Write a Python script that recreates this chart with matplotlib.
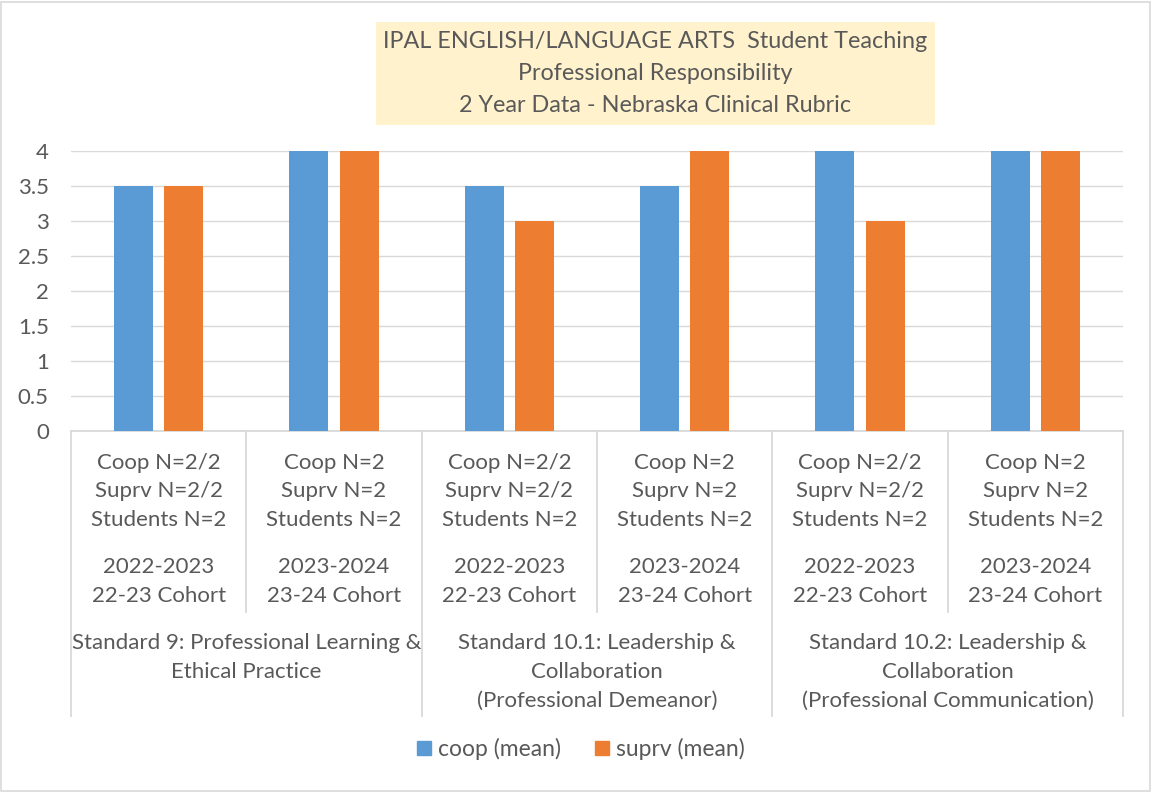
import matplotlib
matplotlib.use("Agg")
import matplotlib.pyplot as plt
import numpy as np
from matplotlib.transforms import blended_transform_factory
from matplotlib.patches import Rectangle
from matplotlib.lines import Line2D

# ---- data ----
coop_mean = [3.5, 4, 3.5, 3.5, 4, 4]
suprv_mean = [3.5, 4, 3, 4, 3, 4]
coop_n = ["Coop N=2/2", "Coop N=2", "Coop N=2/2", "Coop N=2", "Coop N=2/2", "Coop N=2"]
suprv_n = ["Suprv N=2/2", "Suprv N=2", "Suprv N=2/2", "Suprv N=2", "Suprv N=2/2", "Suprv N=2"]
students_n = ["Students N=2"] * 6
years = ["2022-2023", "2023-2024", "2022-2023", "2023-2024", "2022-2023", "2023-2024"]
cohorts = ["22-23 Cohort", "23-24 Cohort", "22-23 Cohort", "23-24 Cohort", "22-23 Cohort", "23-24 Cohort"]
groups = [
    ["Standard 9: Professional Learning &", "Ethical Practice"],
    ["Standard 10.1: Leadership &", "Collaboration", "(Professional Demeanor)"],
    ["Standard 10.2: Leadership &", "Collaboration", "(Professional Communication)"],
]
title_lines = ["IPAL ENGLISH/LANGUAGE ARTS  Student Teaching",
               "Professional Responsibility",
               "2 Year Data - Nebraska Clinical Rubric"]
series_names = ["coop (mean)", "suprv (mean)"]
yticks = [0, 0.5, 1, 1.5, 2, 2.5, 3, 3.5, 4]

# ---- style ----
W, H = 1152, 792
BLUE = "#5B9BD5"
ORANGE = "#ED7D31"
TXT = "#595959"
GRID = "#D9D9D9"
FONT = "Lato"
FS = 16
TFS = 16.8

plt.rcParams["font.family"] = [FONT, "DejaVu Sans"]

fig = plt.figure(figsize=(W / 100, H / 100), dpi=100)
fig.patch.set_facecolor("white")

def fy(py):
    return 1 - py / H

ax = fig.add_axes([71 / W, fy(431), (1123 - 71) / W, (431 - 151) / H])
x = np.arange(len(coop_mean))
bw = 0.222
off = 0.143
ax.bar(x - off, coop_mean, bw, color=BLUE, zorder=3)
ax.bar(x + off, suprv_mean, bw, color=ORANGE, zorder=3)
ax.set_xlim(-0.5, len(coop_mean) - 0.5)
ax.set_ylim(0, 4)
ax.set_yticks(yticks)
ax.set_yticklabels([f"{v:g}" for v in yticks], fontsize=FS, color=TXT)
ax.tick_params(axis="y", length=0, pad=16)
ax.set_xticks([])
ax.grid(axis="y", color=GRID, lw=1, zorder=0)
for s in ["top", "right", "left"]:
    ax.spines[s].set_visible(False)
ax.spines["bottom"].set_color(GRID)
ax.spines["bottom"].set_linewidth(1.3)

tr = blended_transform_factory(ax.transData, fig.transFigure)

# category labels
for i in range(len(coop_mean)):
    for txt, py in zip([coop_n[i], suprv_n[i], students_n[i], years[i], cohorts[i]],
                       [463, 491, 520, 567, 596]):
        fig.text(i, fy(py), txt, transform=tr, ha="center", va="center",
                 fontsize=FS, color=TXT)

# group labels
for g, lines in enumerate(groups):
    cx = 2 * g + 0.5
    for k, txt in enumerate(lines):
        fig.text(cx, fy(643 + 29 * k), txt, transform=tr, ha="center", va="center",
                 fontsize=FS, color=TXT)

# separator lines
for b in np.arange(-0.5, len(coop_mean), 1.0):
    idx = int(b + 0.5)
    bottom = 716 if idx % 2 == 0 else 612
    fig.add_artist(Line2D([b, b], [fy(431), fy(bottom)], transform=tr,
                          color=GRID, lw=1.3))

# title box
fig.add_artist(Rectangle((376 / W, fy(125)), (935 - 376) / W, (125 - 22) / H,
                         transform=fig.transFigure, facecolor="#FFF2CC",
                         edgecolor="none", zorder=0))
for k, t in enumerate(title_lines):
    fig.text((376 + 935) / 2 / W, fy(41 + 32 * k), t, ha="center", va="center",
             fontsize=TFS, color=TXT)

# legend
handles = [Rectangle((0, 0), 1, 1, color=BLUE), Rectangle((0, 0), 1, 1, color=ORANGE)]
fig.legend(handles, series_names, loc="center", bbox_to_anchor=(0.5 + 5 / W, fy(749)),
           ncol=2, frameon=False, fontsize=16.5, labelcolor=TXT,
           handlelength=0.6, handleheight=0.6, handletextpad=0.3, columnspacing=1.5)

# outer border
fig.add_artist(Rectangle((1 / W, 1 / H), (W - 3) / W, (H - 3) / H,
                         transform=fig.transFigure, fill=False,
                         edgecolor=GRID, lw=1.2))

fig.savefig("out.png", dpi=100)
